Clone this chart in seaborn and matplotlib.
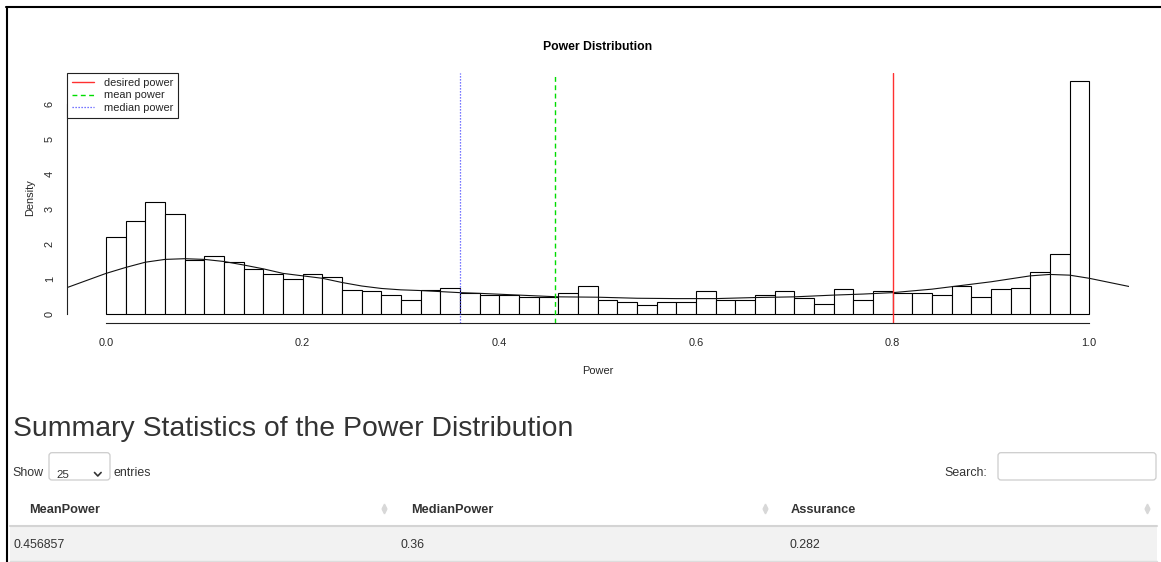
import numpy as np
import pandas as pd
import matplotlib
matplotlib.use("Agg")
import matplotlib.pyplot as plt
import seaborn as sns
from matplotlib.lines import Line2D
from matplotlib.patches import FancyBboxPatch, Rectangle
from matplotlib.transforms import IdentityTransform

# ---------------- data ----------------
breaks = [round(0.02 * i, 2) for i in range(51)]
density = [2.20, 2.65, 3.20, 2.85, 1.55, 1.65, 1.50, 1.30, 1.15, 1.00,
           1.15, 1.05, 0.70, 0.65, 0.55, 0.40, 0.70, 0.75, 0.60, 0.55,
           0.55, 0.50, 0.50, 0.60, 0.80, 0.40, 0.35, 0.25, 0.35, 0.35,
           0.65, 0.40, 0.40, 0.55, 0.65, 0.45, 0.30, 0.70, 0.40, 0.65,
           0.60, 0.60, 0.55, 0.80, 0.50, 0.70, 0.75, 1.20, 1.70, 6.65]
kde_x = [-0.045, 0.0, 0.02, 0.04, 0.06, 0.08, 0.10, 0.12, 0.14, 0.16, 0.18,
         0.20, 0.22, 0.24, 0.26, 0.28, 0.30, 0.32, 0.34, 0.36, 0.38, 0.42,
         0.46, 0.50, 0.54, 0.58, 0.62, 0.66, 0.70, 0.74, 0.77, 0.80, 0.84,
         0.86, 0.90, 0.94, 0.96, 0.98, 1.00, 1.045]
kde_y = [0.70, 1.16, 1.33, 1.48, 1.56, 1.58, 1.56, 1.50, 1.40, 1.29, 1.16,
         1.09, 1.02, 0.90, 0.80, 0.73, 0.69, 0.67, 0.64, 0.61, 0.59, 0.54,
         0.49, 0.48, 0.45, 0.44, 0.44, 0.47, 0.49, 0.54, 0.57, 0.61, 0.71,
         0.78, 0.92, 1.09, 1.13, 1.11, 1.02, 0.76]
desired_power = 0.8
mean_power = 0.456857
median_power = 0.36
x_ticks = [0.0, 0.2, 0.4, 0.6, 0.8, 1.0]
x_ticklabels = ["0.0", "0.2", "0.4", "0.6", "0.8", "1.0"]
y_ticks = [0, 1, 2, 3, 4, 5, 6]
legend_labels = ["desired power", "mean power", "median power"]
table_title = "Summary Statistics of the Power Distribution"
table_columns = ["MeanPower", "MedianPower", "Assurance"]
table_values = ["0.456857", "0.36", "0.282"]

# ---------------- figure ----------------
W, H = 1161, 562
sns.set_style("white")
plt.rcParams["font.family"] = ["Liberation Sans", "DejaVu Sans"]
fig = plt.figure(figsize=(W / 100, H / 100), dpi=100)
fig.patch.set_facecolor("white")

def pt(px):
    return px * 72 / 100

def fx(px):
    return px / W

def fy(py):
    return 1 - py / H

# plot region in pixels
L, R, T, B = 66.7, 1128.6, 73.0, 323.0
ax = fig.add_axes([fx(L), fy(B), (R - L) / W, (B - T) / H])
ax.set_facecolor("white")

mids = [(breaks[i] + breaks[i + 1]) / 2 for i in range(len(density))]
hist_df = pd.DataFrame({"power": mids, "density": density})
sns.histplot(data=hist_df, x="power", weights="density", bins=breaks,
             stat="count", ax=ax, color="white", edgecolor="black",
             linewidth=0.8, alpha=1)
sns.lineplot(x=kde_x, y=kde_y, ax=ax, color="#111111", linewidth=0.8)

ax.axvline(desired_power, color="#ff3030", linewidth=1.0, label=legend_labels[0])
ax.axvline(mean_power, color="#00dd00", linewidth=1.0, linestyle=(0, (3.5, 2.5)),
           label=legend_labels[1])
ax.axvline(median_power, color="#4a4aff", linewidth=0.9, linestyle=(0, (1, 1.4)),
           label=legend_labels[2])

px_per_unit = 35.0
zero_px = 314.0
ax.set_xlim(-0.04, 1.04)
ax.set_ylim((zero_px - B) / px_per_unit, (zero_px - T) / px_per_unit)

for s in ["top", "right"]:
    ax.spines[s].set_visible(False)
ax.spines["bottom"].set_bounds(0, 1)
ax.spines["left"].set_bounds(0, 6)
for s in ["bottom", "left"]:
    ax.spines[s].set_color("#222222")
    ax.spines[s].set_linewidth(0.8)

ax.set_xticks(x_ticks)
ax.set_xticklabels(x_ticklabels)
ax.set_yticks(y_ticks)
ax.tick_params(axis="x", length=pt(6), width=0.8, color="#222222",
               labelsize=pt(11), pad=pt(9.5), direction="out")
ax.tick_params(axis="y", length=pt(7), width=0.8, color="#222222",
               labelsize=pt(11), pad=pt(5), direction="out", labelrotation=90)
for lab in ax.get_yticklabels():
    lab.set_va("center")
ax.grid(False)

ax.set_xlabel("Power", fontsize=pt(11))
ax.set_ylabel("Density", fontsize=pt(11))
ax.xaxis.set_label_coords(0.5, (B - 371) / (B - T))
ax.xaxis.label.set_va("center")
ax.yaxis.set_label_coords((30 - L) / (R - L), 0.5)
ax.yaxis.label.set_va("center")

leg = ax.legend(loc="upper left", bbox_to_anchor=(0.0005, 1.0), borderaxespad=0,
                fontsize=pt(11), frameon=True, fancybox=False, framealpha=1,
                edgecolor="#222222", handlelength=2.0, handletextpad=0.9,
                labelspacing=0.22, borderpad=0.45)
leg.get_frame().set_linewidth(0.8)

fig.text(fx(597.6), fy(50), "Power Distribution", ha="center", va="baseline",
         fontsize=pt(12.2), fontweight="bold", color="black")

# ---------------- page frame ----------------
idt = IdentityTransform()
fig.add_artist(Line2D([6, W], [H - 7, H - 7], transform=idt, color="black", linewidth=1.5))
fig.add_artist(Line2D([7, 7], [0, H - 7], transform=idt, color="black", linewidth=1.5))

# ---------------- table section ----------------
txt = "#333333"
fig.text(fx(12.5), fy(435.5), table_title, ha="left", va="baseline",
         fontsize=pt(28.4), color=txt)

fig.text(fx(12.7), fy(476), "Show", ha="left", va="baseline", fontsize=pt(12.4), color=txt)
fig.add_artist(FancyBboxPatch((49, H - 480), 61, 27.3,
                              boxstyle="round,pad=0,rounding_size=3",
                              transform=idt, facecolor="white", edgecolor="#cccccc",
                              linewidth=0.9))
fig.text(fx(56), fy(477.5), "25", ha="left", va="baseline", fontsize=pt(11.5), color=txt)
fig.add_artist(Line2D([94.5, 97.8, 101.1], [H - 472.5, H - 476, H - 472.5],
                      transform=idt, color="#333333", linewidth=1.2))
fig.text(fx(114), fy(476), "entries", ha="left", va="baseline", fontsize=pt(12.4), color=txt)

fig.text(fx(987), fy(476), "Search:", ha="right", va="baseline", fontsize=pt(12.4), color=txt)
fig.add_artist(FancyBboxPatch((998, H - 480), 158, 27.3,
                              boxstyle="round,pad=0,rounding_size=3",
                              transform=idt, facecolor="white", edgecolor="#cccccc",
                              linewidth=0.9))

header_x = [29, 410.7, 791]
value_x = [14, 400, 789]
sort_x = [384, 765, 1147]
for cx, name in zip(header_x, table_columns):
    fig.text(fx(cx), fy(512.7), name, ha="left", va="baseline", fontsize=pt(12.8),
             fontweight="bold", color=txt)
for sx in sort_x:
    fig.add_artist(Line2D([sx], [H - 505.5], marker="^", markersize=3.4,
                          color="#d8d8d8", transform=idt, linestyle="none"))
    fig.add_artist(Line2D([sx], [H - 510.5], marker="v", markersize=3.4,
                          color="#d8d8d8", transform=idt, linestyle="none"))

fig.add_artist(Rectangle((10, H - 561), 1147, 35, transform=idt,
                         facecolor="#f2f2f2", edgecolor="none"))
fig.add_artist(Line2D([10, 1157], [H - 525.5, H - 525.5], transform=idt,
                      color="#d4d4d4", linewidth=1.5))
fig.add_artist(Line2D([10, 1157], [H - 561, H - 561], transform=idt,
                      color="#dddddd", linewidth=1.0))
for cx, val in zip(value_x, table_values):
    fig.text(fx(cx), fy(548.3), val, ha="left", va="baseline", fontsize=pt(12.4), color=txt)

fig.savefig("out.png", dpi=100, facecolor="white")
